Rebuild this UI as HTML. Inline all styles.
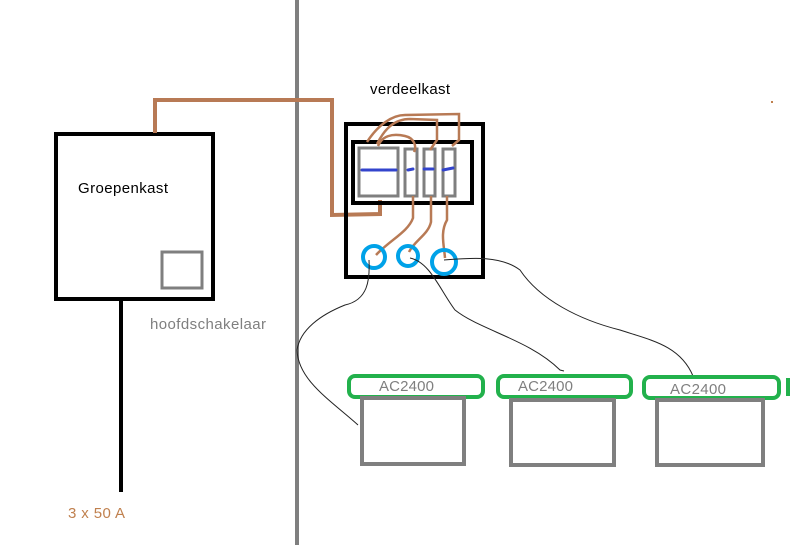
<!DOCTYPE html>
<html><head><style>
html,body{margin:0;padding:0;background:#fff;}
svg{display:block;}
text{font-family:"Liberation Sans",sans-serif;}
</style></head><body>
<svg width="800" height="545" viewBox="0 0 800 545" xmlns="http://www.w3.org/2000/svg">
<rect width="800" height="545" fill="#fff"/>
<line x1="297" y1="0" x2="297" y2="545" stroke="#7f7f7f" stroke-width="4"/>
<rect x="56" y="134" width="157" height="165" fill="none" stroke="#000" stroke-width="4"/>
<rect x="162" y="252" width="40" height="36" fill="none" stroke="#7f7f7f" stroke-width="3"/>
<line x1="121" y1="297" x2="121" y2="492" stroke="#000" stroke-width="4"/>
<text x="78" y="193" font-size="15" fill="#000" textLength="90">Groepenkast</text>
<text x="150" y="329" font-size="15" fill="#7f7f7f" textLength="116">hoofdschakelaar</text>
<text x="68" y="518" font-size="15" fill="#c0804e" textLength="57">3 x 50 A</text>
<polyline points="155,133 155,100 332,100 332,215 380,214 380,200" fill="none" stroke="#b87a55" stroke-width="4"/>
<text x="370" y="94" font-size="15" fill="#000" textLength="80">verdeelkast</text>
<rect x="346" y="124" width="137" height="153" fill="none" stroke="#000" stroke-width="4"/>
<rect x="353" y="142" width="119" height="61" fill="none" stroke="#000" stroke-width="4"/>
<rect x="359" y="148" width="39" height="48" fill="none" stroke="#7f7f7f" stroke-width="3"/>
<rect x="405" y="149" width="12" height="47" fill="none" stroke="#7f7f7f" stroke-width="3"/>
<rect x="424" y="149" width="11" height="47" fill="none" stroke="#7f7f7f" stroke-width="3"/>
<rect x="443" y="149" width="12" height="47" fill="none" stroke="#7f7f7f" stroke-width="3"/>
<g stroke="#3344cc" stroke-width="3" stroke-linecap="round">
<line x1="362" y1="170" x2="396" y2="170"/>
<line x1="408" y1="170" x2="413" y2="169"/>
<line x1="424" y1="169" x2="433" y2="169"/>
<line x1="443" y1="170" x2="453" y2="168"/>
</g>
<g fill="none" stroke="#b87a55" stroke-width="2.5">
<path d="M367,142 C378,125 392,115 405,115 L459,114 L459,140 L452,146"/>
<path d="M377,144 C385,128 395,119 410,119 L437,120 L437,140 L430,150"/>
<path d="M378,146 C382,136 392,133 405,136 C414,138 417,146 414,152"/>
<path d="M413,196 L413,218 C408,232 390,240 376,255"/>
<path d="M431,196 L431,222 C428,235 415,240 409,252"/>
<path d="M447,196 L447,220 C440,232 444,245 445,258"/>
</g>
<g fill="none" stroke="#00a2e8" stroke-width="4">
<circle cx="374" cy="257" r="11"/>
<circle cx="408" cy="256" r="10"/>
<circle cx="444" cy="262" r="12"/>
</g>
<g fill="none" stroke="#222" stroke-width="1">
<path d="M369,260 C370,280 368,300 345,305 C320,315 300,330 297,350 C298,380 330,400 358,425"/>
<path d="M410,258 C430,262 440,290 455,310 C480,330 530,340 560,370 L564,371"/>
<path d="M444,260 C470,258 500,255 520,270 C540,300 580,320 620,330 C650,340 680,345 693,376"/>
</g>
<g fill="none" stroke="#22b14c" stroke-width="4">
<rect x="349" y="376" width="134" height="21" rx="6"/>
<rect x="498" y="376" width="133" height="21" rx="6"/>
<rect x="644" y="377" width="135" height="21" rx="6"/>
<line x1="788" y1="378" x2="788" y2="396"/>
</g>
<g fill="none" stroke="#7f7f7f" stroke-width="4">
<rect x="362" y="398" width="102" height="66"/>
<rect x="511" y="400" width="103" height="65"/>
<rect x="657" y="400" width="106" height="65"/>
</g>
<g font-size="15" fill="#7f7f7f">
<text x="379" y="391" textLength="55">AC2400</text>
<text x="518" y="391" textLength="55">AC2400</text>
<text x="670" y="394" textLength="56">AC2400</text>
</g>
<rect x="771" y="101" width="2" height="2" fill="#c0804e"/>
</svg>
</body></html>
